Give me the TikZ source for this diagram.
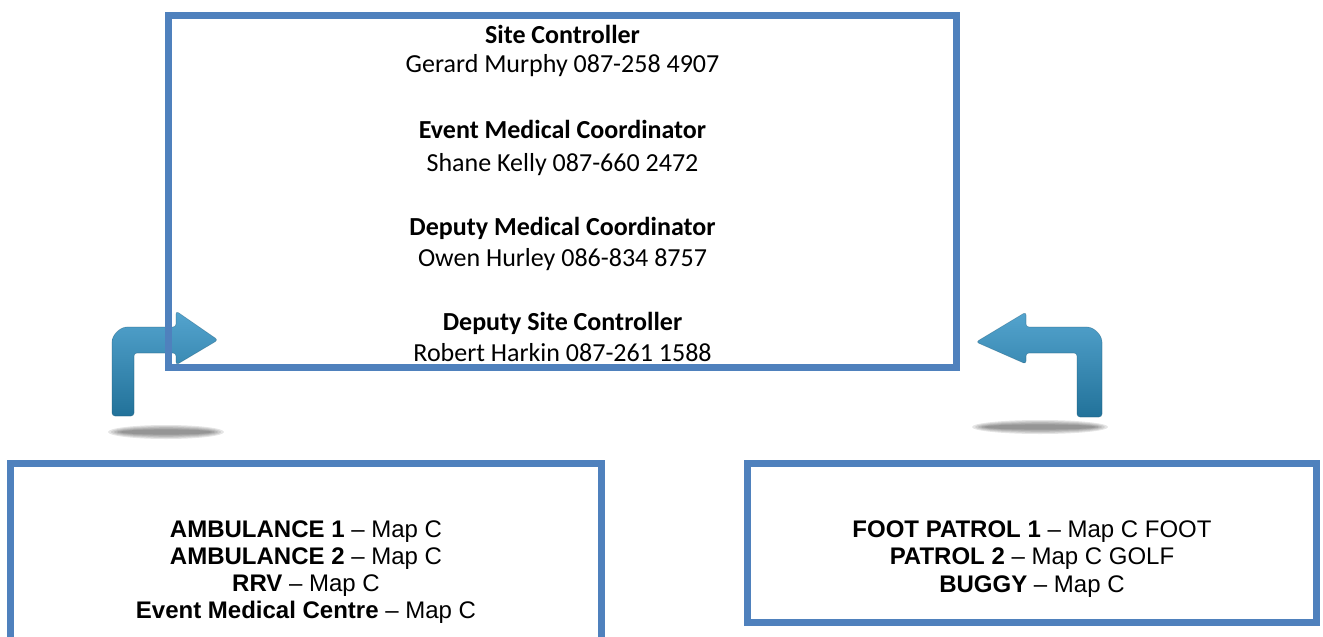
\documentclass[tikz,border=0pt]{standalone}
\usepackage{fontspec}
\setmainfont{Carlito}
\newfontfamily\arialf[Ligatures=TeX]{Liberation Sans}
\definecolor{boxblue}{RGB}{79,129,189}
\definecolor{arrowlight}{RGB}{84,164,206}
\definecolor{arrowdark}{RGB}{34,114,154}
\begin{document}
\begin{tikzpicture}[x=0.5pt,y=-0.5pt,
  frame/.style={draw=boxblue, line width=3.5pt, inner sep=0pt, outer sep=0pt, rectangle},
  toptext/.style={anchor=base, inner sep=0pt, font=\fontsize{13}{15.6}\selectfont},
  boldtop/.style={anchor=base, inner sep=0pt, font=\fontsize{13}{15.6}\selectfont\bfseries},
  bottext/.style={anchor=base, inner sep=0pt, font=\arialf\fontsize{12}{14}\selectfont},
  arrowshape/.style={top color=arrowlight, bottom color=arrowdark, rounded corners=1.5pt},
  arrowedge/.style={draw=arrowdark!70!black, line width=0.3pt, opacity=0.35, rounded corners=1.5pt},
  shadowlayer/.style={fill=black, opacity=0.1}]
\useasboundingbox (0,0) rectangle (1323,637);
\clip (0,0) rectangle (1323,637);

% shadows under the bent arrows
\foreach \i in {0,...,4} {
  \fill[shadowlayer] (166,432) ellipse [x radius={58-3*\i}, y radius={7-1.1*\i}];
  \fill[shadowlayer] (1040,427) ellipse [x radius={68-3*\i}, y radius={7-1.1*\i}];
}

% left bent arrow (up, then right)
\shade[arrowshape] (112,416) -- (112,345) .. controls (112,335) and (120,327) .. (130,327)
  -- (176,327) -- (176,311) -- (218,340) -- (176,365) -- (176,353) -- (134,353) -- (134,416) -- cycle;
\draw[arrowedge] (112,416) -- (112,345) .. controls (112,335) and (120,327) .. (130,327)
  -- (176,327) -- (176,311) -- (218,340) -- (176,365) -- (176,353) -- (134,353) -- (134,416) -- cycle;

% right bent arrow (up, then left)
\shade[arrowshape] (1077,417) -- (1077,353) -- (1026,353) -- (1026,364) -- (976,342) -- (1026,312)
  -- (1026,327) -- (1084,327) .. controls (1094,327) and (1102,335) .. (1102,345) -- (1102,417) -- cycle;
\draw[arrowedge] (1077,417) -- (1077,353) -- (1026,353) -- (1026,364) -- (976,342) -- (1026,312)
  -- (1026,327) -- (1084,327) .. controls (1094,327) and (1102,335) .. (1102,345) -- (1102,417) -- cycle;

% boxes
\node[frame, minimum width=394pt, minimum height=176pt] (topbox) at (562.5,191.5) {};
\node[frame, minimum width=295.5pt, minimum height=98.25pt] (leftbox) at (306,561.75) {};
\node[frame, minimum width=284.5pt, minimum height=79.5pt] (rightbox) at (1032,543) {};

% top box text
\node[boldtop] (t1) at (562.5,43) {Site Controller};
\node[toptext] (t2) at (562.5,72) {Gerard Murphy 087-258 4907};
\node[boldtop] (t3) at (562.5,138) {Event Medical Coordinator};
\node[toptext] (t4) at (562.5,171) {Shane Kelly 087-660 2472};
\node[boldtop] (t5) at (562.5,235) {Deputy Medical Coordinator};
\node[toptext] (t6) at (562.5,266) {Owen Hurley 086-834 8757};
\node[boldtop] (t7) at (562.5,330) {Deputy Site Controller};
\node[toptext] (t8) at (562.5,361) {Robert Harkin 087-261 1588};

% left box text
\node[bottext] (l1) at (306,537) {\textbf{AMBULANCE 1} – Map C};
\node[bottext] (l2) at (306,564) {\textbf{AMBULANCE 2} – Map C};
\node[bottext] (l3) at (306,591) {\textbf{RRV} – Map C};
\node[bottext] (l4) at (306,618) {\textbf{Event Medical Centre} – Map C};

% right box text
\node[bottext] (r1) at (1032,537) {\textbf{FOOT PATROL 1} – Map C FOOT};
\node[bottext] (r2) at (1032,564) {\textbf{PATROL 2} – Map C GOLF};
\node[bottext] (r3) at (1032,592) {\textbf{BUGGY} – Map C};
\end{tikzpicture}
\end{document}
